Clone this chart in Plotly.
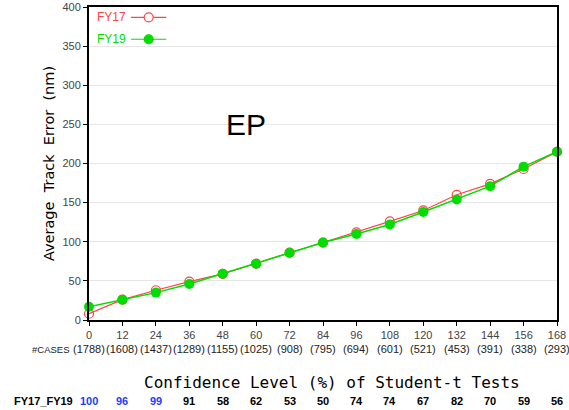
import plotly.graph_objects as go

hours = [0, 12, 24, 36, 48, 60, 72, 84, 96, 108, 120, 132, 144, 156, 168]
fy17 = [8, 26, 38, 49, 59, 72, 86, 99, 112, 126, 140, 160, 174, 193, 215]
fy19 = [17, 26, 35, 46, 59, 72, 86, 99, 110, 122, 138, 154, 171, 196, 215]
cases = [1788, 1608, 1437, 1289, 1155, 1025, 908, 795, 694, 601, 521, 453, 391, 338, 293]
conf = [100, 96, 99, 91, 58, 62, 53, 50, 74, 74, 67, 82, 70, 59, 56]
conf_sig = [True, True, True] + [False] * 12

RED = "#ff4444"
GREEN = "#00dd00"
FONT = "Liberation Sans"
NB = "\u00a0"

fig = go.Figure()
fig.add_trace(go.Scatter(x=hours, y=fy17, mode="lines+markers", name="FY17",
                         line=dict(color=RED, width=1.2),
                         marker=dict(symbol="circle-open", size=9, color=RED, line=dict(width=1.2)),
                         cliponaxis=False))
fig.add_trace(go.Scatter(x=hours, y=fy19, mode="lines+markers", name="FY19",
                         line=dict(color=GREEN, width=1.5),
                         marker=dict(symbol="circle", size=10, color=GREEN),
                         cliponaxis=False))

ann = []
legend_items = [("FY17", RED, 0.967, "circle-open"), ("FY19", GREEN, 0.897, "circle")]
shapes = []
for name, col, yp, sym in legend_items:
    ann.append(dict(text=name, x=0.012, y=yp, xref="paper", yref="paper", showarrow=False,
                    xanchor="left", yanchor="middle", font=dict(family=FONT, size=12, color=col)))
    shapes.append(dict(type="line", xref="paper", yref="paper", x0=0.09, x1=0.165, y0=yp, y1=yp,
                       line=dict(color=col, width=1.2)))
    shapes.append(dict(type="circle", xref="paper", yref="paper", xsizemode="pixel", ysizemode="pixel",
                       xanchor=0.1275, yanchor=yp, x0=-4.5, x1=4.5, y0=-4.5, y1=4.5,
                       line=dict(color=col, width=1.2),
                       fillcolor=("white" if sym == "circle-open" else col)))

ann.append(dict(text="EP", x=0.335, y=0.625, xref="paper", yref="paper", showarrow=False,
                font=dict(family=FONT, size=30, color="black")))

ann.append(dict(text="#CASES", x=-0.037, y=-0.093, xref="paper", yref="paper", showarrow=False,
                xanchor="right", yanchor="middle", font=dict(family=FONT, size=9.5, color="#222")))
for h, c in zip(hours, cases):
    ann.append(dict(text=f"({c})", x=h, y=-0.093, xref="x", yref="paper", showarrow=False,
                    xanchor="center", yanchor="middle", font=dict(family=FONT, size=11, color="#222")))

ann.append(dict(text="Confidence Level (%) of Student-t Tests", x=0.519, y=-0.2, xref="paper", yref="paper",
                showarrow=False, xanchor="center", yanchor="middle",
                font=dict(family="DejaVu Sans Mono", size=16, color="black")))
ann.append(dict(text="<b>FY17_FY19</b>", x=-0.165, y=-0.258, xref="paper", yref="paper", showarrow=False,
                xanchor="left", yanchor="middle", font=dict(family=FONT, size=11, color="black")))
for h, v, s in zip(hours, conf, conf_sig):
    ann.append(dict(text=f"<b>{v}</b>", x=h, y=-0.258, xref="x", yref="paper", showarrow=False,
                    xanchor="center", yanchor="middle",
                    font=dict(family=FONT, size=11, color=("#1a3cff" if s else "black"))))

fig.update_layout(
    width=569, height=410,
    margin=dict(l=89, r=12, t=7, b=90),
    plot_bgcolor="white", paper_bgcolor="white",
    showlegend=False,
    annotations=ann, shapes=shapes,
    font=dict(family=FONT),
)
fig.update_xaxes(range=[0, 168], tickvals=hours, ticks="outside", ticklen=4, tickcolor="black",
                 showline=True, linecolor="black", linewidth=2, mirror=True, showgrid=False,
                 zeroline=False, automargin=False, tickfont=dict(family=FONT, size=11, color="#444"))
ytitle = (NB * 2).join(["Average", "Track", "Error", "(nm)"])
fig.update_yaxes(range=[0, 400], dtick=50, ticks="outside", ticklen=4, tickcolor="black",
                 showline=True, linecolor="black", linewidth=2, mirror=True, showgrid=True,
                 gridcolor="#e6e6e6", gridwidth=1, zeroline=False, automargin=False,
                 tickfont=dict(family=FONT, size=11, color="#444"),
                 title=dict(text=ytitle, font=dict(family="DejaVu Sans", size=14.5, color="black"),
                            standoff=4))

fig.write_html("out.html", post_script="document.body.style.margin='0';",
               config={"displayModeBar": False})
